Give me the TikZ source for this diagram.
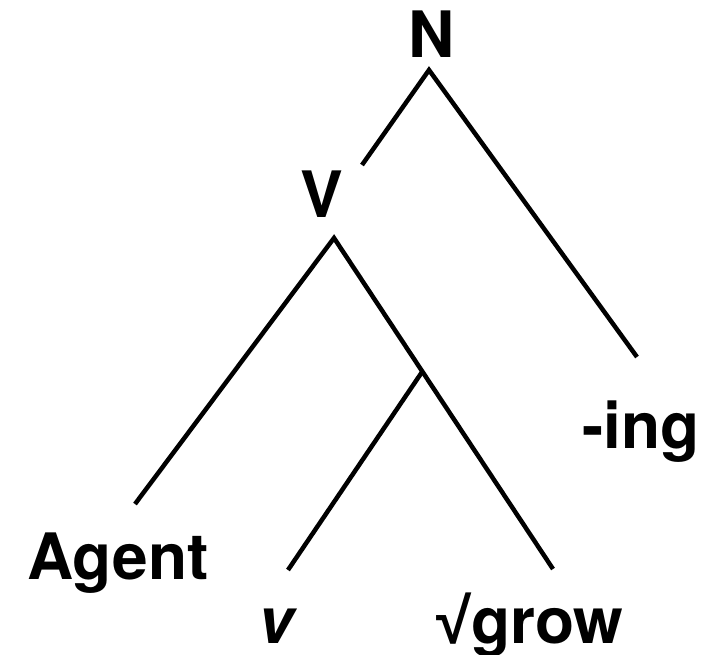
\documentclass[tikz,border=0pt]{standalone}
\usepackage{fontspec}
\setmainfont{TeX Gyre Heros}
\newfontfamily\symfont{Liberation Sans}
\begin{document}
\begin{tikzpicture}[x=1pt,y=-1pt,
  lbl/.style={font=\fontsize{64}{64}\selectfont\bfseries, inner sep=0pt, anchor=base},
  branch/.style={line width=4.5pt}]
\useasboundingbox (0,0) rectangle (717,654);
% labels
\node[lbl] (N) at (432,57) {N};
\node[lbl] (V) at (322,217) {V};
\node[lbl] (agent) at (118,579) {Agent};
\node[lbl] (vsmall) at (276,643) {\itshape v};
\node[lbl] (grow) at (530,643) {{\symfont\bfseries √}grow};
\node[lbl] (ing) at (641,448) {-ing};
% branch end points
\coordinate (nTop) at (429,70);
\coordinate (nLeft) at (362,165);
\coordinate (nRight) at (637,357);
\coordinate (vTop) at (334,238);
\coordinate (vLeft) at (135,504);
\coordinate (vRight) at (553,569);
\coordinate (mid) at (422,372);
\coordinate (midLeft) at (288,570);
% branches
\draw[branch] (nLeft) -- (nTop) -- (nRight);
\draw[branch] (vLeft) -- (vTop) -- (vRight);
\draw[branch] (mid) -- (midLeft);
\end{tikzpicture}
\end{document}
